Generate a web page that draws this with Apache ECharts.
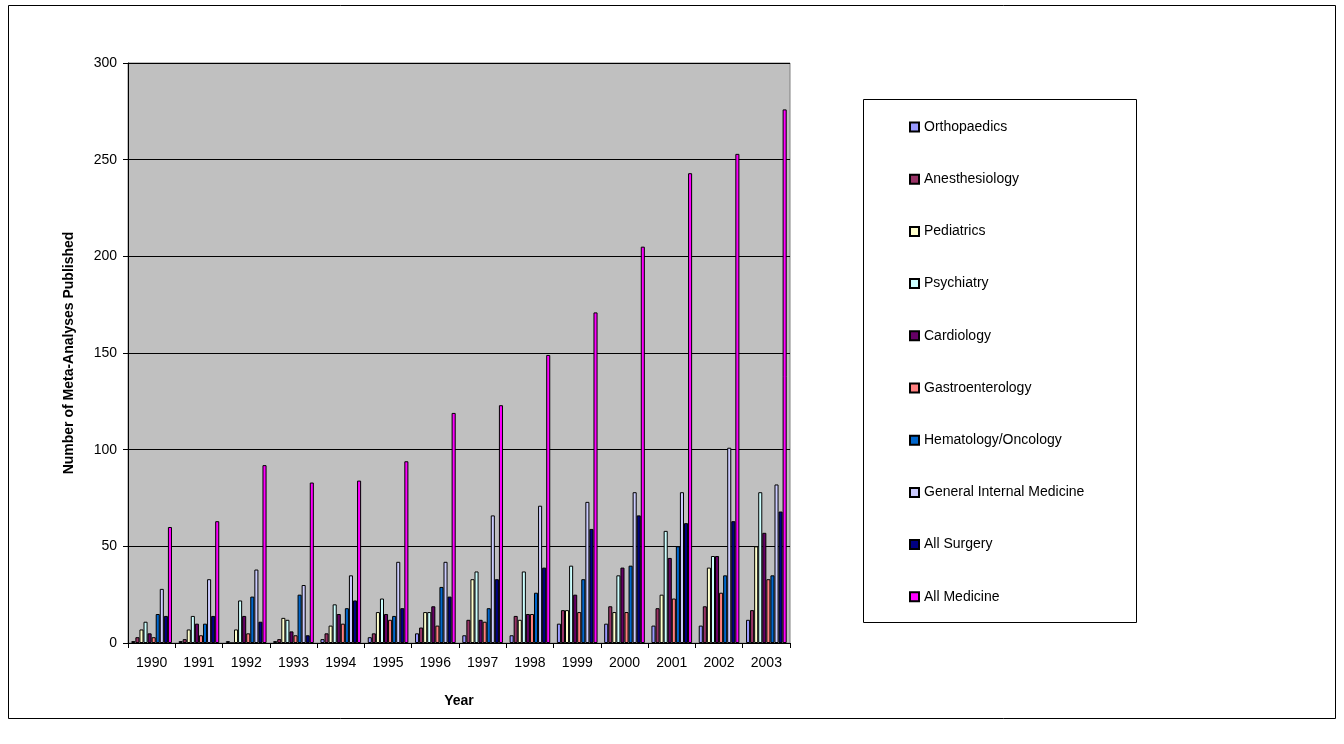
<!DOCTYPE html>
<html>
<head>
<meta charset="utf-8">
<script src="https://cdn.jsdelivr.net/npm/echarts@6/dist/echarts.min.js"></script>
<style>
  html, body { margin: 0; padding: 0; background: #fff; }
  #chart { width: 1344px; height: 744px; }
</style>
</head>
<body>
<div id="chart"></div>
<script>
// Meta-analyses published per year, by specialty
const years = ['1990','1991','1992','1993','1994','1995','1996','1997','1998','1999','2000','2001','2002','2003'];
const yTicks = { min: 0, max: 300, interval: 50 };

const orthopaedics    = [1, 1, 1, 1, 2, 3, 5, 4, 4, 10, 10, 9, 9, 12];
const anesthesiology  = [3, 2, 0, 2, 5, 5, 8, 12, 14, 17, 19, 18, 19, 17];
const pediatrics      = [7, 7, 7, 13, 9, 16, 16, 33, 12, 17, 16, 25, 39, 50];
const psychiatry      = [11, 14, 22, 12, 20, 23, 16, 37, 37, 40, 35, 58, 45, 78];
const cardiology      = [5, 10, 14, 6, 15, 15, 19, 12, 15, 25, 39, 44, 45, 57];
const gastroenterology= [3, 4, 5, 4, 10, 12, 9, 11, 15, 16, 16, 23, 26, 33];
const hemOnc          = [15, 10, 24, 25, 18, 14, 29, 18, 26, 33, 40, 50, 35, 35];
const generalIM       = [28, 33, 38, 30, 35, 42, 42, 66, 71, 73, 78, 78, 101, 82];
const allSurgery      = [14, 14, 11, 4, 22, 18, 24, 33, 39, 59, 66, 62, 63, 68];
const allMedicine     = [60, 63, 92, 83, 84, 94, 119, 123, 149, 171, 205, 243, 253, 276];

const seriesDefs = [
  ['Orthopaedics', orthopaedics, '#9999FF'],
  ['Anesthesiology', anesthesiology, '#993366'],
  ['Pediatrics', pediatrics, '#FFFFCC'],
  ['Psychiatry', psychiatry, '#CCFFFF'],
  ['Cardiology', cardiology, '#660066'],
  ['Gastroenterology', gastroenterology, '#FF8080'],
  ['Hematology/Oncology', hemOnc, '#0066CC'],
  ['General Internal Medicine', generalIM, '#CCCCFF'],
  ['All Surgery', allSurgery, '#000080'],
  ['All Medicine', allMedicine, '#FF00FF']
];

const FONT = '"Liberation Sans", Arial, sans-serif';
const chart = echarts.init(document.getElementById('chart'), null, { renderer: 'canvas' });

chart.setOption({
  animation: false,
  backgroundColor: '#ffffff',
  textStyle: { fontFamily: FONT },
  graphic: [
    { type: 'rect', z: -10, shape: { x: 8.5, y: 5.5, width: 1327, height: 713 },
      style: { fill: '#ffffff', stroke: '#000000', lineWidth: 1 } },
    { type: 'rect', z: -5, shape: { x: 863.5, y: 99.5, width: 273, height: 523 },
      style: { fill: '#ffffff', stroke: '#000000', lineWidth: 1 } }
  ],
  grid: {
    left: 128, top: 63, right: 554, bottom: 101,
    show: true, backgroundColor: '#C0C0C0', borderColor: '#808080', borderWidth: 1
  },
  legend: {
    orient: 'vertical',
    left: 909, top: 119,
    padding: 0,
    itemWidth: 9, itemHeight: 9,
    itemGap: 36.2,
    icon: 'rect',
    textStyle: { fontFamily: FONT, fontSize: 14, color: '#000', lineHeight: 16 },
    data: seriesDefs.map(d => d[0])
  },
  xAxis: {
    type: 'category',
    data: years,
    name: 'Year',
    nameLocation: 'middle',
    nameGap: 51,
    nameTextStyle: { fontFamily: FONT, fontSize: 14, fontWeight: 'bold', color: '#000' },
    axisLine: { lineStyle: { color: '#000', width: 1 } },
    axisTick: { show: true, length: 5, alignWithLabel: false, lineStyle: { color: '#000' } },
    axisLabel: { fontFamily: FONT, fontSize: 14, color: '#000', margin: 13 },
    splitLine: { show: false }
  },
  yAxis: {
    type: 'value',
    min: yTicks.min, max: yTicks.max, interval: yTicks.interval,
    name: 'Number of Meta-Analyses Published',
    nameLocation: 'middle',
    nameGap: 52,
    nameTextStyle: { fontFamily: FONT, fontSize: 14, fontWeight: 'bold', color: '#000' },
    axisLine: { show: true, lineStyle: { color: '#000', width: 1 } },
    axisTick: { show: true, length: 5, lineStyle: { color: '#000' } },
    axisLabel: { fontFamily: FONT, fontSize: 14, color: '#000', margin: 11 },
    splitLine: { show: true, lineStyle: { color: '#000', width: 1 } }
  },
  series: seriesDefs.map(([name, data, color]) => ({
    name,
    type: 'bar',
    data,
    barGap: '0%',
    barCategoryGap: '14%',
    itemStyle: { color, borderColor: '#000', borderWidth: 1 }
  }))
});
</script>
</body>
</html>
